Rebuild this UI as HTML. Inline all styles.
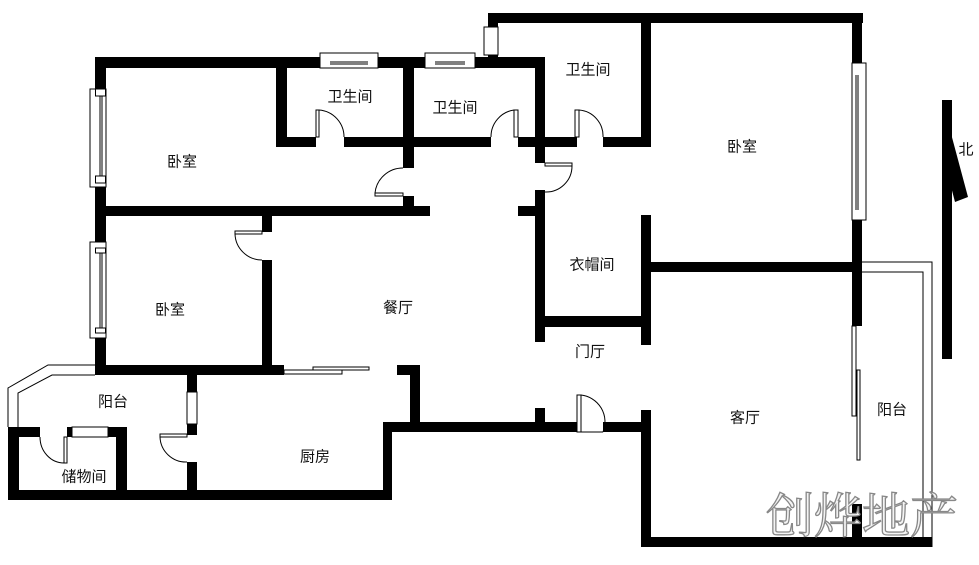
<!DOCTYPE html>
<html><head><meta charset="utf-8"><style>
html,body{margin:0;padding:0;background:#fff;}
svg{display:block}
text{font-family:"Liberation Sans","Noto Sans CJK SC",sans-serif;font-size:15px;fill:#111;text-anchor:middle;dominant-baseline:central}
</style></head><body>
<svg width="979" height="565" viewBox="0 0 979 565" xmlns="http://www.w3.org/2000/svg">
<rect width="979" height="565" fill="#fff"/>
<g fill="#000">
<rect x="95" y="57" width="450" height="11"/>
<rect x="488" y="13" width="375" height="10"/>
<rect x="488" y="13" width="10" height="47"/>
<rect x="535" y="57" width="10" height="106"/>
<rect x="641" y="13" width="10" height="134"/>
<rect x="852" y="13" width="10" height="313"/>
<rect x="95" y="57" width="11" height="318"/>
<rect x="276" y="57" width="11" height="90"/>
<rect x="276" y="137" width="40" height="10"/>
<rect x="344" y="137" width="147" height="10"/>
<rect x="403" y="57" width="11" height="111"/>
<rect x="403" y="196" width="11" height="11"/>
<rect x="518" y="137" width="59" height="10"/>
<rect x="603" y="137" width="48" height="10"/>
<rect x="95" y="206" width="335" height="10"/>
<rect x="535" y="190" width="10" height="152"/>
<rect x="518" y="206" width="27" height="10"/>
<rect x="641" y="215" width="10" height="130"/>
<rect x="641" y="262" width="221" height="10"/>
<rect x="535" y="316" width="116" height="11"/>
<rect x="262" y="216" width="10" height="16"/>
<rect x="262" y="260" width="10" height="115"/>
<rect x="95" y="365" width="189" height="10"/>
<rect x="397" y="365" width="23" height="10"/>
<rect x="410" y="365" width="10" height="67"/>
<rect x="383" y="422" width="194" height="10"/>
<rect x="603" y="422" width="48" height="10"/>
<rect x="535" y="408" width="10" height="16"/>
<rect x="641" y="410" width="10" height="137"/>
<rect x="641" y="537" width="291" height="10"/>
<rect x="852" y="504" width="10" height="35"/>
<rect x="187" y="375" width="10" height="17"/>
<rect x="187" y="424" width="10" height="11"/>
<rect x="187" y="462" width="10" height="30"/>
<rect x="8" y="490" width="384" height="10"/>
<rect x="383" y="422" width="9" height="78"/>
<rect x="8" y="427" width="11" height="73"/>
<rect x="8" y="427" width="32" height="10"/>
<rect x="67" y="427" width="60" height="10"/>
<rect x="116" y="427" width="11" height="73"/>
<rect x="942" y="100" width="10" height="259"/>
<polygon points="942,100 968,197 955,202 944,160"/>
</g>
<g fill="#fff" stroke="#000" stroke-width="1">
<rect x="90" y="89" width="16" height="98"/>
<line x1="100" y1="96" x2="100" y2="180"/>
<line x1="102" y1="96" x2="102" y2="180"/>
<rect x="95.5" y="89" width="10" height="7"/>
<rect x="95.5" y="176" width="10" height="7"/>
<rect x="90" y="242" width="16" height="96"/>
<line x1="100" y1="249" x2="100" y2="331"/>
<line x1="102" y1="249" x2="102" y2="331"/>
<rect x="95.5" y="248" width="10" height="5"/>
<rect x="95.5" y="328" width="10" height="5"/>
<rect x="320" y="53" width="58" height="15"/>
<line x1="330" y1="62" x2="368" y2="62"/>
<line x1="330" y1="64" x2="368" y2="64"/>
<rect x="425" y="53" width="50" height="15"/>
<line x1="435" y1="62" x2="465" y2="62"/>
<line x1="435" y1="64" x2="465" y2="64"/>
<rect x="484" y="27" width="14" height="28"/>
<rect x="852" y="63" width="14" height="157"/>
<line x1="856" y1="75" x2="856" y2="210"/>
<line x1="858" y1="75" x2="858" y2="210"/>
<rect x="187" y="392" width="10" height="32"/>
<rect x="72" y="427" width="36" height="10"/>
<polyline points="862,262 932,262 932,547" fill="none"/>
<polyline points="862,272 923,272 923,537" fill="none"/>
<rect x="852" y="326" width="4" height="90"/>
<rect x="857" y="370" width="3" height="90"/>
<rect x="284" y="370" width="58" height="4"/>
<rect x="313" y="367" width="56" height="3"/>
<rect x="316" y="110" width="3" height="27"/>
<rect x="514" y="110" width="4" height="27"/>
<rect x="575" y="110" width="4" height="27"/>
<rect x="375" y="193" width="28" height="3"/>
<rect x="545" y="163" width="27" height="3"/>
<rect x="235" y="231" width="27" height="3"/>
<rect x="577" y="395" width="4" height="37"/>
<rect x="160" y="434" width="27" height="3"/>
<rect x="64" y="437" width="3" height="26"/>
</g>
<g fill="none" stroke="#000" stroke-width="1">
<path d="M319,110 A27,27 0 0 1 344,137"/>
<path d="M514,110 A27,27 0 0 0 491,137"/>
<path d="M579,110 A26,26 0 0 1 603,137"/>
<path d="M375,193 A28,28 0 0 1 403,168"/>
<path d="M572,166 A26,26 0 0 1 545,192"/>
<path d="M235,234 A27,27 0 0 0 262,260"/>
<path d="M581,395 A27,27 0 0 1 603,432"/>
<line x1="577" y1="432" x2="603" y2="432"/>
<path d="M160,437 A26,26 0 0 0 187,462"/>
<path d="M40,437 A24,26 0 0 0 64,463"/>
<polyline points="95,365 48,365 8,388 8,427"/>
<polyline points="95,375 52,375 18,393 18,427"/>
</g>
<text x="182" y="162">卧室</text>
<text x="350" y="97">卫生间</text>
<text x="455" y="108">卫生间</text>
<text x="588" y="70">卫生间</text>
<text x="742" y="147">卧室</text>
<text x="592" y="265">衣帽间</text>
<text x="170" y="310">卧室</text>
<text x="398" y="308">餐厅</text>
<text x="590" y="352">门厅</text>
<text x="113" y="402">阳台</text>
<text x="84" y="477">储物间</text>
<text x="315" y="457">厨房</text>
<text x="745" y="418">客厅</text>
<text x="892" y="410">阳台</text>
<text x="966" y="150">北</text>
<text x="862" y="517" style="font-family:'Liberation Serif','Noto Serif CJK SC',serif;font-size:48px;fill:#f4f4f4;stroke:#888;stroke-width:1.3">创烨地产</text>
</svg>
</body></html>
